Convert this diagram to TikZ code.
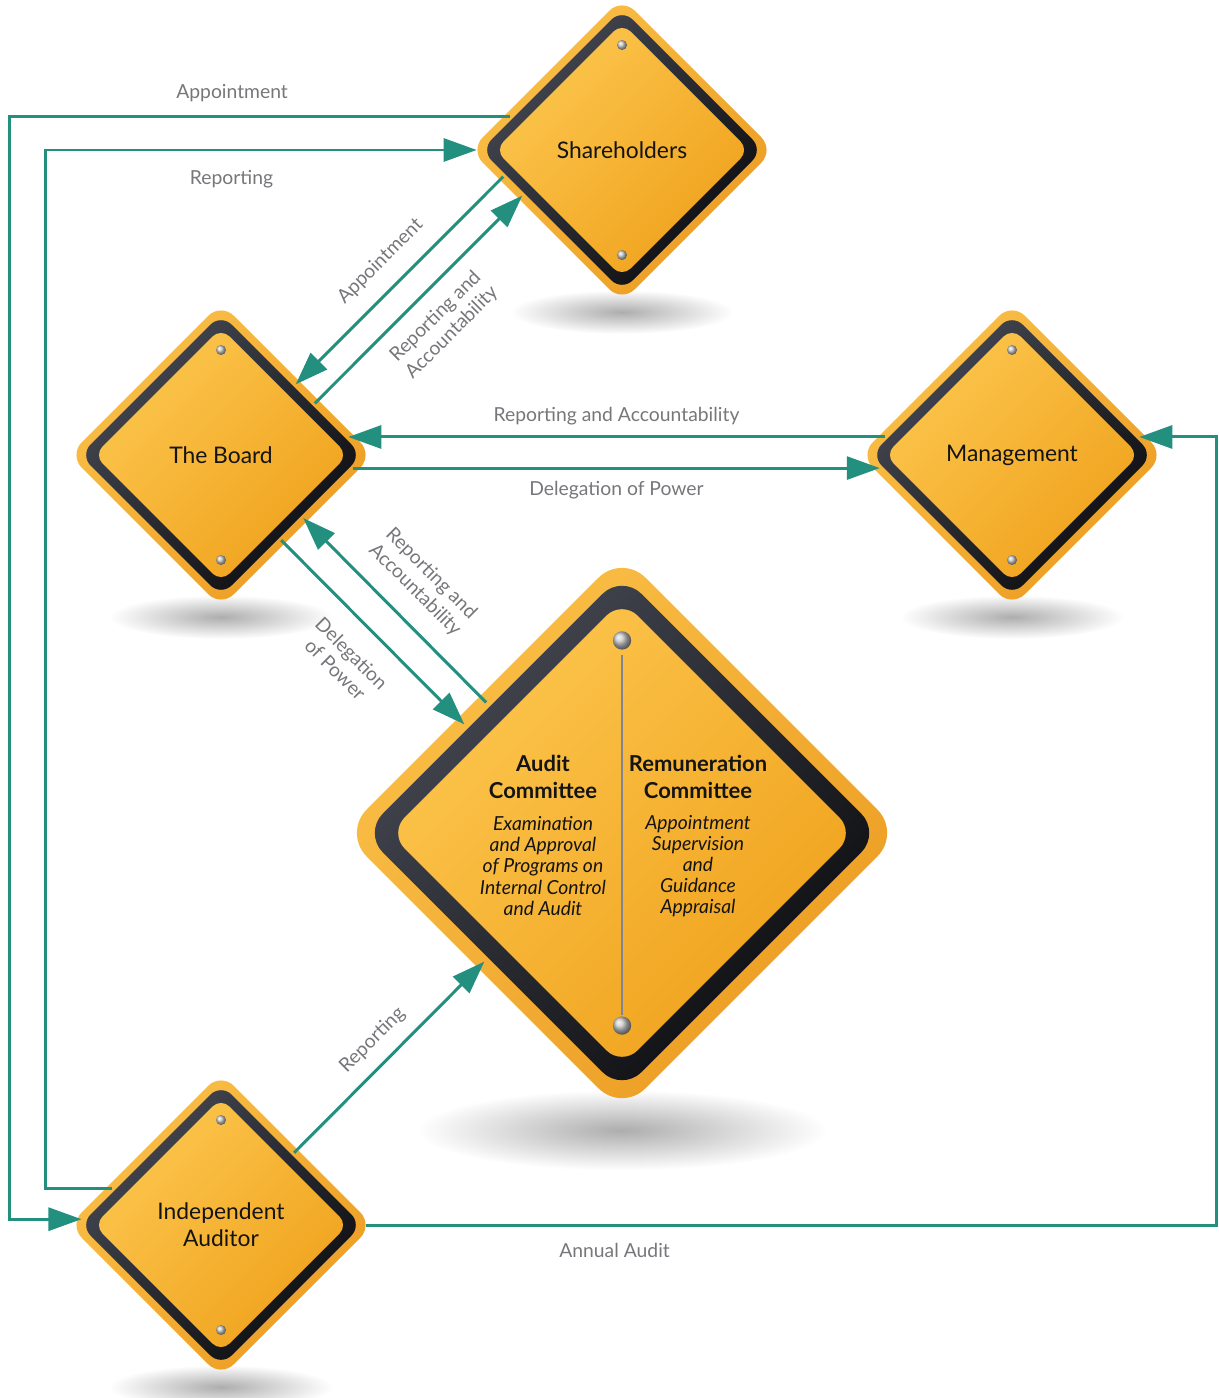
\documentclass[tikz,border=0pt]{standalone}
\usepackage{fontspec}
\setmainfont{Lato}
\usetikzlibrary{arrows.meta,calc,shapes.geometric,positioning}
\definecolor{flowteal}{RGB}{35,143,127}
\definecolor{labelgray}{RGB}{118,119,122}
\definecolor{rimlight}{RGB}{250,192,72}
\definecolor{rimdark}{RGB}{236,156,34}
\definecolor{facelight}{RGB}{252,198,78}
\definecolor{facedark}{RGB}{240,162,28}
\definecolor{bandlight}{RGB}{70,73,84}
\definecolor{banddark}{RGB}{12,12,14}
\definecolor{dividergray}{RGB}{128,132,148}
\tikzset{
flow/.style={draw=flowteal, line width=1.7pt, -{Triangle[length=0.66cm,width=0.46cm]}},
lbl/.style={text=labelgray, font=\fontsize{11}{13}\selectfont, align=center},
signtext/.style={text=black!92, font=\fontsize{13}{15.5}\selectfont, align=center},
sign/.style={diamond, aspect=1, inner sep=0pt, minimum size=#1},
}
\newcommand\signpath[1]{(#1/2,-#1/2) -- (#1,0) -- (0,#1) -- (-#1,0) -- (0,-#1) -- cycle}
\newcommand\drawsign[2]{%
\begin{scope}[shift={#1}, scale=#2]
\shade[inner color=black!32, outer color=white] (0,162) ellipse (112 and 22);
\shade[top color=rimlight, bottom color=rimdark, shading angle=45, rounded corners=#2*0.36cm] \signpath{152};
\shade[top color=bandlight, bottom color=banddark, shading angle=45, rounded corners=#2*0.30cm] \signpath{141};
\shade[top color=facelight, bottom color=facedark, shading angle=45, rounded corners=#2*0.24cm] \signpath{127};
\shade[ball color=black!22] (0,-105) circle (5);
\shade[ball color=black!22] (0,105) circle (5);
\end{scope}}
\begin{document}
\begin{tikzpicture}
[x=0.02cm, y=-0.02cm]
\useasboundingbox (0,0) rectangle (1218,1398);
\drawsign{(622,150)}{1}
\drawsign{(221,455)}{1}
\drawsign{(1012,455)}{1}
\drawsign{(622,833)}{1.834}
\drawsign{(221,1225)}{1}
\draw[dividergray, line width=1.1pt] (622,655) -- (622,1015);
\node[sign=5.8cm, signtext] (sh) at (622,150) {Shareholders};
\node[sign=5.8cm, signtext] (bd) at (221,455) {The Board};
\node[sign=5.8cm, signtext] (mg) at (1012,455) {Management};
\node[sign=10.64cm] (ac) at (622,833) {};
\node[sign=5.8cm, signtext] (ia) at (221,1225) {Independent\\Auditor};
\node[signtext, font=\bfseries\fontsize{12.5}{15}\selectfont] (audit) at (543,777) {Audit\\Committee};
\node[signtext, font=\itshape\fontsize{11}{12}\selectfont] (auditwork) at (543,866) {Examination\\and Approval\\of Programs on\\Internal Control\\and Audit};
\node[signtext, font=\bfseries\fontsize{12.5}{15}\selectfont] (remun) at (698,777) {Remuneration\\Committee};
\node[signtext, font=\itshape\fontsize{11}{12}\selectfont] (remunwork) at (698,866) {Appointment\\Supervision\\and\\Guidance\\Appraisal};
\draw[flow] ($(sh.west)!0.23!(sh.north)$) -- node[lbl, above, inner sep=7.8pt, pos=0.555] {Appointment} ++(-501,0) |- ($(ia.west)!0.04!(ia.north)$);
\draw[flow] ($(ia.west)!0.25!(ia.north)$) -- ++(-67,0) |- node[lbl, below, inner sep=11pt, pos=0.716] {Reporting} (sh.west);
\draw[flow] ($(sh.west)!0.183!(sh.south)$) -- node[lbl, above, rotate=45, inner sep=9.5pt] {Appointment} ($(bd.north)!0.514!(bd.east)$);
\draw[flow] ($(bd.north)!0.645!(bd.east)$) -- node[lbl, below, rotate=45, inner sep=8pt] {Reporting and\\Accountability} ($(sh.west)!0.314!(sh.south)$);
\draw[flow] ($(mg.west)!0.124!(mg.north)$) -- node[lbl, above, inner sep=6pt] {Reporting and Accountability} ($(bd.east)!0.124!(bd.north)$);
\draw[flow] ($(bd.east)!0.09!(bd.south)$) -- node[lbl, below, inner sep=6.6pt] {Delegation of Power} ($(mg.west)!0.09!(mg.south)$);
\draw[flow] ($(bd.east)!0.586!(bd.south)$) -- node[lbl, below, rotate=-45, inner sep=12pt] {Delegation\\of Power} ($(ac.west)!0.408!(ac.north)$);
\draw[flow] ($(ac.west)!0.49!(ac.north)$) -- node[lbl, above, rotate=-45, inner sep=10.4pt] {Reporting and\\Accountability} ($(bd.east)!0.434!(bd.south)$);
\draw[flow] ($(ia.north)!0.503!(ia.east)$) -- node[lbl, above, rotate=45, inner sep=7.6pt] {Reporting} ($(ac.west)!0.483!(ac.south)$);
\draw[flow] (ia.east) -- node[lbl, below, inner sep=9.5pt, pos=0.292] {Annual Audit} ++(850,0) |- ($(mg.east)!0.124!(mg.north)$);
\end{tikzpicture}
\end{document}
